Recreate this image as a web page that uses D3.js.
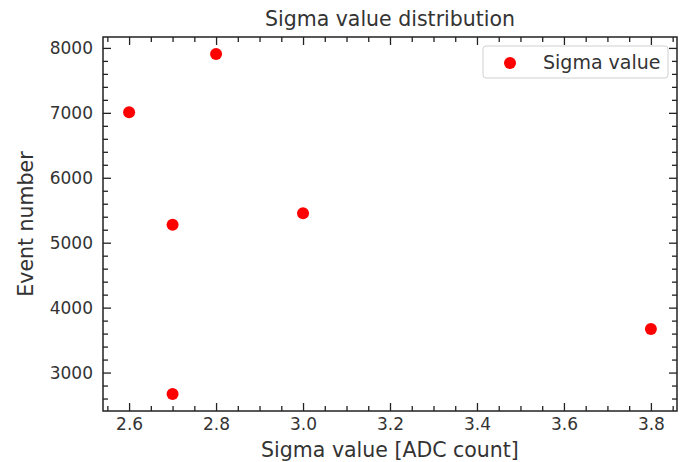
<!DOCTYPE html>
<html>
<head>
<meta charset="utf-8">
<script src="https://cdn.jsdelivr.net/npm/d3@7"></script>
<style>
  body { margin: 0; background: #fff; }
  text { font-family: "DejaVu Sans", sans-serif; fill: #333; }
</style>
</head>
<body>
<svg id="chart" width="691" height="462"></svg>
<script>
// sigma values (x) and event counts (y)
var sigmaValues = [2.6, 2.7, 2.7, 2.8, 3.0, 3.8];
var eventNumbers = [7010, 5275, 2670, 7905, 5455, 3670];
var xTicks = [2.6, 2.8, 3.0, 3.2, 3.4, 3.6, 3.8];
var yTicks = [3000, 4000, 5000, 6000, 7000, 8000];

var svg = d3.select('#chart');
// plot box (note: "top" is taken by window.top)
var pLeft = 103, pRight = 677, pTop = 37, pBottom = 411;

var x = d3.scaleLinear().domain([2.54, 3.86]).range([pLeft, pRight]);
var y = d3.scaleLinear().domain([2408, 8168]).range([pBottom, pTop]);

// minor tick positions
var xMinor = d3.range(2.55, 3.86, 0.05).filter(function(v) {
  return Math.abs(Math.round(v * 5) - v * 5) > 1e-6;
});
var yMinor = d3.range(2600, 8168, 200).filter(function(v) { return v % 1000 !== 0; });

function styleAxis(g) {
  g.select('.domain').remove();
  g.selectAll('.tick line').attr('stroke', '#222').attr('stroke-width', 1.3);
  g.selectAll('.tick text').style('font-size', '17px').attr('fill', '#333');
}

// bottom
svg.append('g').attr('transform', 'translate(0,' + pBottom + ')')
  .call(d3.axisBottom(x).tickValues(xTicks).tickFormat(d3.format('.1f')).tickSize(-8).tickPadding(7))
  .call(styleAxis);
svg.append('g').attr('transform', 'translate(0,' + pBottom + ')')
  .call(d3.axisBottom(x).tickValues(xMinor).tickFormat('').tickSize(-5))
  .call(styleAxis);
// top
svg.append('g').attr('transform', 'translate(0,' + pTop + ')')
  .call(d3.axisTop(x).tickValues(xTicks).tickFormat('').tickSize(-8))
  .call(styleAxis);
svg.append('g').attr('transform', 'translate(0,' + pTop + ')')
  .call(d3.axisTop(x).tickValues(xMinor).tickFormat('').tickSize(-5))
  .call(styleAxis);
// left
svg.append('g').attr('transform', 'translate(' + pLeft + ',0)')
  .call(d3.axisLeft(y).tickValues(yTicks).tickFormat(d3.format('d')).tickSize(-8).tickPadding(10))
  .call(styleAxis);
svg.append('g').attr('transform', 'translate(' + pLeft + ',0)')
  .call(d3.axisLeft(y).tickValues(yMinor).tickFormat('').tickSize(-5))
  .call(styleAxis);
// right
svg.append('g').attr('transform', 'translate(' + pRight + ',0)')
  .call(d3.axisRight(y).tickValues(yTicks).tickFormat('').tickSize(-8))
  .call(styleAxis);
svg.append('g').attr('transform', 'translate(' + pRight + ',0)')
  .call(d3.axisRight(y).tickValues(yMinor).tickFormat('').tickSize(-5))
  .call(styleAxis);

// frame
svg.append('rect')
  .attr('x', pLeft).attr('y', pTop)
  .attr('width', pRight - pLeft).attr('height', pBottom - pTop)
  .attr('fill', 'none').attr('stroke', '#222').attr('stroke-width', 1.5);

// points
svg.selectAll('circle.pt')
  .data(sigmaValues)
  .enter().append('circle')
  .attr('class', 'pt')
  .attr('cx', function(d) { return x(d); })
  .attr('cy', function(d, i) { return y(eventNumbers[i]); })
  .attr('r', 6)
  .attr('fill', '#ff0000');

// titles
svg.append('text').attr('x', (pLeft + pRight) / 2).attr('y', 26)
  .attr('text-anchor', 'middle').style('font-size', '20.5px')
  .text('Sigma value distribution');
svg.append('text').attr('x', (pLeft + pRight) / 2).attr('y', 457)
  .attr('text-anchor', 'middle').style('font-size', '20.5px')
  .text('Sigma value [ADC count]');
svg.append('text')
  .attr('transform', 'translate(33,' + (pTop + pBottom) / 2 + ') rotate(-90)')
  .attr('text-anchor', 'middle').style('font-size', '20.5px')
  .text('Event number');

// legend
var legend = svg.append('g');
legend.append('rect')
  .attr('x', 483).attr('y', 46).attr('width', 185).attr('height', 32)
  .attr('rx', 3).attr('fill', '#fff').attr('fill-opacity', 0.8)
  .attr('stroke', '#d0d0d0');
legend.append('circle').attr('cx', 510).attr('cy', 63).attr('r', 6).attr('fill', '#ff0000');
legend.append('text').attr('x', 543).attr('y', 69).style('font-size', '19px')
  .text('Sigma value');
</script>
</body>
</html>
